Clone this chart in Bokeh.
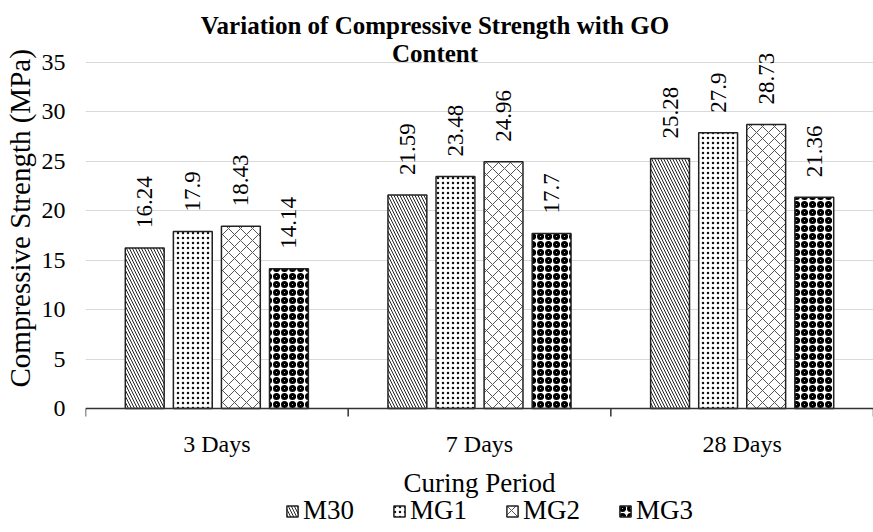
from math import pi

from bokeh.core.properties import value
from bokeh.embed import file_html
from bokeh.models import (ColumnDataSource, FixedTicker, Label, LabelSet, Legend,
                          LegendItem, Range1d, Span, Title)
from bokeh.plotting import figure
from bokeh.resources import INLINE

# Compressive strength (MPa) per curing period and mix
periods = ["3 Days", "7 Days", "28 Days"]
mixes = ["M30", "MG1", "MG2", "MG3"]
m30 = [16.24, 21.59, 25.28]
mg1 = [17.9, 23.48, 27.9]
mg2 = [18.43, 24.96, 28.73]
mg3 = [14.14, 17.7, 21.36]
y_ticks = [0, 5, 10, 15, 20, 25, 30, 35]

series = [m30, mg1, mg2, mg3]

FONT = "Liberation Serif"
INK = "black"

# page geometry (pixels): the plotting frame covers the whole height so that
# titles, value labels and legend can all be drawn as annotations
W, H = 873, 532
LEFT = 85                 # width kept for y tick labels and the y title
Y0_PX, YTOP_PX = 408, 62  # pixel rows of value 0 and of the top tick
px_per_unit = (Y0_PX - YTOP_PX) / y_ticks[-1]
y_lo = -(H - Y0_PX) / px_per_unit
y_hi = y_ticks[-1] + YTOP_PX / px_per_unit

# bar styling per mix
styles = {
    "M30": dict(hatch_pattern="\\", hatch_scale=6, hatch_weight=1, hatch_color="#222222"),
    "MG1": dict(hatch_pattern=".", hatch_scale=5, hatch_weight=3, hatch_color="#111111"),
    "MG2": dict(hatch_pattern="x", hatch_scale=12, hatch_weight=1, hatch_color="#555555"),
    "MG3": dict(hatch_pattern="o", hatch_scale=8, hatch_weight=3, hatch_color="#000000"),
}

n_groups = len(periods)
slot = 0.183          # distance between neighbouring bars in a group
bar_w = 0.148
offsets = [(i - (len(mixes) - 1) / 2) * slot for i in range(len(mixes))]
centres = [i + 0.5 for i in range(n_groups)]
bounds = list(range(n_groups + 1))

p = figure(
    width=W, height=H,
    x_range=Range1d(0, n_groups), y_range=Range1d(y_lo, y_hi),
    output_backend="svg", toolbar_location=None,
    min_border_left=LEFT, min_border_right=0, min_border_top=0, min_border_bottom=0,
    x_axis_location=None,
)
p.title = None
p.outline_line_color = None
p.background_fill_color = "white"
p.border_fill_color = "white"

renderers = {}
for mix, vals, off in zip(mixes, series, offsets):
    xs = [c + off for c in centres]
    src = ColumnDataSource(dict(x=xs, top=vals, lbl=[f"{v:g}" for v in vals]))
    r = p.vbar(x="x", top="top", bottom=0, width=bar_w, source=src,
               fill_color="white", line_color="#222222", line_width=1.5,
               **styles[mix])
    renderers[mix] = r
    p.add_layout(LabelSet(x="x", y="top", text="lbl", source=src,
                          angle=pi / 2, y_offset=20,
                          text_align="left", text_baseline="middle",
                          text_font=value(FONT), text_font_size="23px",
                          text_color=INK))

# y axis: tick labels only, horizontal gridlines
p.yaxis.ticker = FixedTicker(ticks=y_ticks)
p.yaxis.axis_line_color = None
p.yaxis.major_tick_line_color = None
p.yaxis.minor_tick_line_color = None
p.yaxis.major_label_text_font = FONT
p.yaxis.major_label_text_font_size = "24px"
p.yaxis.major_label_text_color = INK
p.yaxis.major_label_standoff = 14

p.ygrid.ticker = FixedTicker(ticks=y_ticks[1:])
p.ygrid.grid_line_color = "#d9d9d9"
p.ygrid.grid_line_width = 1
p.xgrid.grid_line_color = None

p.add_layout(Title(text="Compressive Strength (MPa)", align="left", offset=145,
                   vertical_align="top", standoff=2,
                   text_font=FONT, text_font_size="29px", text_font_style="normal",
                   text_color=INK), "left")

# category axis: baseline, boundary ticks, period labels and title
p.add_layout(Span(location=0, dimension="width", line_color="#333333", line_width=1.5))
tick_len = 8 / px_per_unit
p.segment(x0=bounds, y0=[0] * len(bounds), x1=bounds, y1=[-tick_len] * len(bounds),
          line_color="#333333", line_width=1.5)
cat_src = ColumnDataSource(dict(x=centres, y=[0] * n_groups, lbl=periods))
p.add_layout(LabelSet(x="x", y="y", text="lbl", source=cat_src, y_offset=-35,
                      text_align="center", text_baseline="middle",
                      text_font=value(FONT), text_font_size="24px", text_color=INK))
p.add_layout(Label(x=n_groups / 2, y=0, y_offset=-74, text="Curing Period",
                   text_align="center", text_baseline="middle",
                   text_font=FONT, text_font_size="27px", text_color=INK))

# legend along the bottom edge
legend = Legend(
    items=[LegendItem(label=m, renderers=[renderers[m]]) for m in mixes],
    orientation="horizontal", location=(200, 6),
    label_text_font=FONT, label_text_font_size="27px", label_text_color=INK,
    glyph_width=14, glyph_height=14, label_standoff=4, spacing=38,
    padding=0, margin=0, border_line_color=None, background_fill_alpha=0,
)
p.add_layout(legend, "center")

# two-line chart title, centred on the page
title_cx = W / 2 - 2 - LEFT
for text, baseline_px in [("Variation of Compressive Strength with GO", 25), ("Content", 53)]:
    p.add_layout(Label(x=title_cx, y=H - baseline_px, x_units="screen", y_units="screen",
                       text=text, text_align="center", text_baseline="alphabetic",
                       text_font=FONT, text_font_size="25px", text_font_style="bold",
                       text_color=INK))

open("out.html", "w").write(file_html(p, INLINE))
